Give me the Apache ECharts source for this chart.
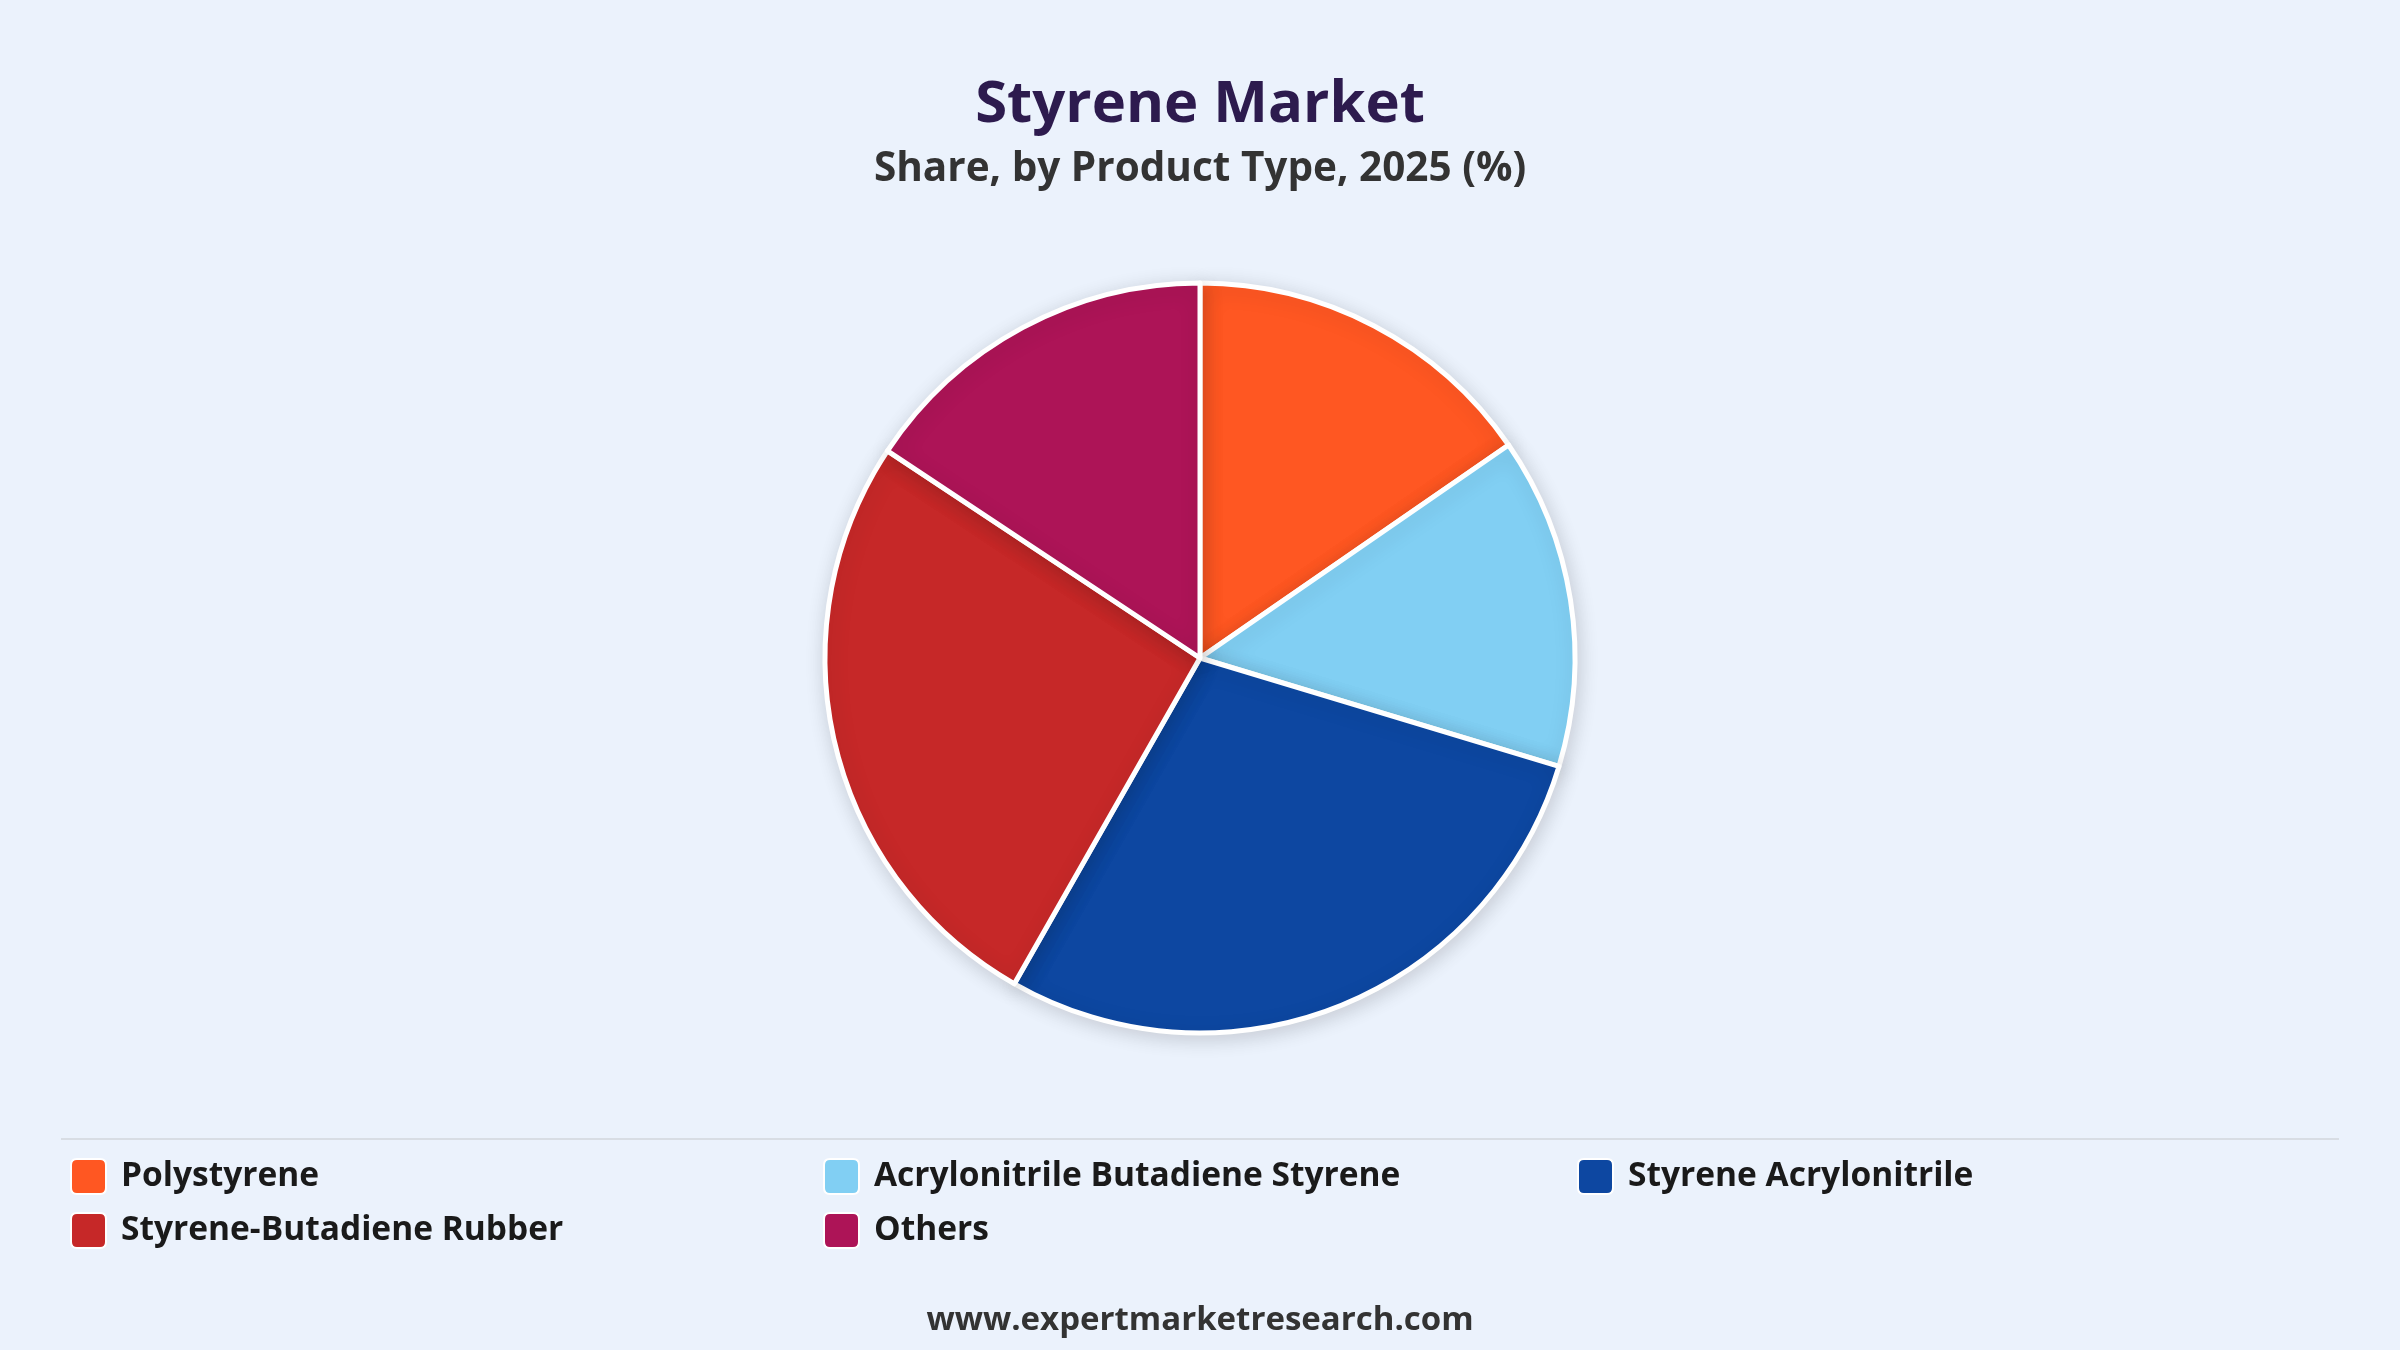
<!DOCTYPE html>
<html>
<head>
<meta charset="utf-8">
<title>Styrene Market</title>
<script src="https://cdn.jsdelivr.net/npm/echarts@6/dist/echarts.min.js"></script>
<style>
    html, body { margin: 0; padding: 0; background: #ebf2fc; }
    #main { width: 2400px; height: 1350px; }
</style>
</head>
<body>
<div id="main"></div>
<script>
// data
var categories = ['Polystyrene', 'Acrylonitrile Butadiene Styrene', 'Styrene Acrylonitrile', 'Styrene-Butadiene Rubber', 'Others'];
var shares = [15.4, 14.3, 28.6, 26.1, 15.7];
var colors = ['#ff5722', '#81cff3', '#0d47a1', '#c62828', '#ad1457'];

var fontName = '"Open Sans", "Noto Sans", sans-serif';
var chart = echarts.init(document.getElementById('main'));

// legend laid out as a 3-column grid, one legend per item
var legendCols = [70, 823, 1577];
var legendRows = [1158, 1212];
var legends = [];
for (var i = 0; i < categories.length; i++) {
    legends.push({
        data: [categories[i]],
        left: legendCols[i % 3],
        top: legendRows[Math.floor(i / 3)],
        padding: 0,
        itemWidth: 35,
        itemHeight: 35,
        icon: 'path://M6,0 L29,0 Q35,0 35,6 L35,29 Q35,35 29,35 L6,35 Q0,35 0,29 L0,6 Q0,0 6,0 Z',
        selectedMode: false,
        textStyle: {
            fontFamily: fontName,
            fontWeight: 'bold',
            fontSize: 33.5,
            color: '#1a1a1a',
            lineHeight: 35,
            padding: [0, 0, 0, 10]
        }
    });
}

var pieData = [];
for (var j = 0; j < categories.length; j++) {
    pieData.push({ name: categories[j], value: shares[j], itemStyle: { color: colors[j] } });
}

chart.setOption({
    backgroundColor: '#ebf2fc',
    animation: false,
    title: [{
        text: 'Styrene Market',
        left: 'center',
        top: 70,
        padding: 0,
        textStyle: { fontFamily: fontName, fontWeight: 'bold', fontSize: 58, lineHeight: 70, color: '#2d1b4e' }
    }, {
        text: 'Share, by Product Type, 2025 (%)',
        left: 'center',
        top: 144,
        padding: 0,
        textStyle: { fontFamily: fontName, fontWeight: 'bold', fontSize: 40.5, lineHeight: 50, color: '#333333' }
    }, {
        text: 'www.expertmarketresearch.com',
        left: 'center',
        top: 1301,
        padding: 0,
        textStyle: { fontFamily: fontName, fontWeight: 'bold', fontSize: 33, lineHeight: 40, color: '#333333' }
    }],
    legend: legends,
    graphic: [{
        type: 'line',
        shape: { x1: 61, y1: 1139, x2: 2339, y2: 1139 },
        style: { stroke: '#d8dde4', lineWidth: 2 },
        silent: true
    }],
    series: [{
        type: 'pie',
        center: [1200, 658],
        radius: 375,
        startAngle: 90,
        clockwise: true,
        label: { show: false },
        labelLine: { show: false },
        emphasis: { disabled: true },
        itemStyle: {
            borderColor: '#ffffff',
            borderWidth: 5,
            shadowBlur: 20,
            shadowOffsetX: 2,
            shadowOffsetY: 4,
            shadowColor: 'rgba(0, 0, 0, 0.15)'
        },
        data: pieData
    }]
});
</script>
</body>
</html>
